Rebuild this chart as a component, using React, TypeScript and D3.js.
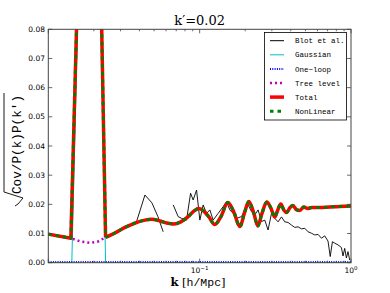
import React from "react";
import * as d3 from "d3";

// model curves (all share the same k grid)
const modelK = [0.01, 0.0141, 0.0165, 0.019, 0.0212, 0.0239, 0.0276, 0.0321, 0.0374, 0.0435, 0.0484, 0.0546, 0.0607, 0.0676, 0.0751, 0.0836, 0.0916, 0.0988, 0.1066, 0.115, 0.126, 0.138, 0.1535, 0.1681, 0.1842, 0.1987, 0.2112, 0.2279, 0.2422, 0.2574, 0.2777, 0.2951, 0.3136, 0.3283, 0.3436, 0.3597, 0.3764, 0.394, 0.4124, 0.4381, 0.4587, 0.4872, 0.5177, 0.5503, 0.6215, 0.7235, 0.8423, 1.0];
const totalV = [0.0098, 0.0084, 0.14, 0.29, 0.154, 0.0087, 0.0102, 0.0121, 0.0136, 0.0146, 0.0149, 0.0143, 0.0136, 0.0133, 0.014, 0.0157, 0.0177, 0.0186, 0.0177, 0.0157, 0.0131, 0.0157, 0.0206, 0.0174, 0.0124, 0.0174, 0.021, 0.017, 0.0126, 0.0167, 0.0208, 0.0188, 0.0157, 0.0181, 0.0201, 0.0181, 0.0172, 0.0188, 0.0196, 0.0181, 0.0179, 0.0191, 0.0186, 0.0189, 0.0189, 0.0191, 0.0193, 0.0194];
const nonLinearV = [0.0098, 0.0084, 0.14, 0.29, 0.154, 0.0087, 0.0102, 0.0121, 0.0136, 0.0146, 0.0149, 0.0143, 0.0136, 0.0133, 0.014, 0.0157, 0.0177, 0.0186, 0.0177, 0.0157, 0.0131, 0.0157, 0.0206, 0.0174, 0.0124, 0.0174, 0.021, 0.017, 0.0126, 0.0167, 0.0208, 0.0188, 0.0157, 0.0181, 0.0201, 0.0181, 0.0172, 0.0188, 0.0196, 0.0181, 0.0179, 0.0191, 0.0186, 0.0189, 0.0189, 0.0191, 0.0193, 0.0194];
const treeV = [0.0098, 0.0084, 0.0072, 0.0068, 0.0072, 0.0087, 0.0102, 0.0121, 0.0136, 0.0146, 0.0149, 0.0143, 0.0136, 0.0133, 0.014, 0.0157, 0.0177, 0.0186, 0.0177, 0.0157, 0.0131, 0.0157, 0.0206, 0.0174, 0.0124, 0.0174, 0.021, 0.017, 0.0126, 0.0167, 0.0208, 0.0188, 0.0157, 0.0181, 0.0201, 0.0181, 0.0172, 0.0188, 0.0196, 0.0181, 0.0179, 0.0191, 0.0186, 0.0189, 0.0189, 0.0191, 0.0193, 0.0194];
const spikeEnd = 5; // straight segments up to here, smooth after

const gaussK = [0.01, 0.0143, 0.0165, 0.019, 0.0212, 0.0239, 1.0];
const gaussV = [0, 0, 0.133, 0.283, 0.147, 0, 0];

const oneLoopK = [0.01, 0.03, 0.1, 0.3, 1.0];
const oneLoopV = [0.0002, 0.0002, 0.0002, 0.0002, 0.0002];

// simulation measurement (NaN = gap)
const blotK = [0.0383, 0.0435, 0.0484, 0.053, 0.0574, 0.0625, 0.0669, 0.0721, 0.076, 0.0819, 0.0871, 0.0906, 0.0954, 0.1003, 0.1055, 0.111, 0.1168, 0.1228, 0.1325, 0.1429, 0.1505, 0.1582, 0.1664, 0.1752, 0.1891, 0.1987, 0.209, 0.2201, 0.2314, 0.2433, 0.2562, 0.2694, 0.2832, 0.2983, 0.3136, 0.3297, 0.3473, 0.3651, 0.3839, 0.4042, 0.425, 0.447, 0.4706, 0.4948, 0.5202, 0.5478, 0.576, 0.6056, 0.6378, 0.6705, 0.705, 0.729, 0.7537, 0.7806, 0.8207, 0.8641, 0.8855, 0.9087, 0.9324, 0.9555, 0.9804];
const blotV = [0.0141, 0.0232, 0.0205, 0.0158, 0.0106, NaN, 0.0198, 0.0158, 0.0152, 0.0146, 0.0238, 0.0215, 0.0249, 0.0146, 0.0198, 0.0169, 0.0181, 0.0146, 0.0169, 0.0192, 0.0209, 0.0181, 0.0169, 0.0152, 0.0158, 0.0181, 0.0198, 0.0175, 0.0164, 0.0181, 0.0141, 0.0146, 0.0112, 0.0169, 0.0152, 0.014, 0.0157, 0.014, 0.0138, 0.0129, 0.0121, 0.0123, 0.0116, 0.0118, 0.0106, 0.0101, 0.0095, 0.0097, 0.0084, 0.0092, 0.0074, 0.0021, 0.0072, 0.0067, 0.0061, 0.0052, 0.0023, 0.0049, 0.0016, 0.0038, 0.0009];

const yTicks = [0, 0.01, 0.02, 0.03, 0.04, 0.05, 0.06, 0.07, 0.08];
const xTickLabels = [
  { k: 0.1, exp: "\u22121" },
  { k: 1, exp: "0" },
];
const legendItems = ["Blot et al.", "Gaussian", "One\u2212loop", "Tree level", "Total", "NonLinear"];

const W = 390;
const H = 293;
const left = 48.3, right = 351, top = 29.3, bottom = 262.7;

const App = () => {
  const x = d3.scaleLog().domain([0.01, 1]).range([left, right]);
  const y = d3.scaleLinear().domain([0, 0.08]).range([bottom, top]);

  const pts = (ks: number[], vs: number[]) => ks.map((k, i) => [k, vs[i]] as [number, number]);
  const lin = d3.line<[number, number]>().x((d) => x(d[0])).y((d) => y(d[1]));
  const smooth = d3
    .line<[number, number]>()
    .x((d) => x(d[0]))
    .y((d) => y(d[1]))
    .curve(d3.curveMonotoneX);
  const model = (vs: number[]) => {
    const p = pts(modelK, vs);
    return (lin(p.slice(0, spikeEnd + 1)) || "") + (smooth(p.slice(spikeEnd)) || "");
  };
  const blotLine = d3
    .line<[number, number]>()
    .defined((d) => !isNaN(d[1]))
    .x((d) => x(d[0]))
    .y((d) => y(d[1]));

  const xMinor = x.ticks();
  const spine = "#444";

  const legX = 264.5, legY = 32.5, legW = 82, legH = 87.5;
  const rowY = (i: number) => 40.7 + i * 14.1;
  const sampleStyles = [
    { stroke: "#000", width: 1, dash: "" },
    { stroke: "#00bfbf", width: 1, dash: "" },
    { stroke: "#0000ff", width: 2, dash: "1,1.3" },
    { stroke: "#bf00bf", width: 2.5, dash: "2,3" },
    { stroke: "#ff0000", width: 3.5, dash: "" },
    { stroke: "#008000", width: 3, dash: "3.5,4" },
  ];

  return (
    <svg width={W} height={H} style={{ position: "absolute", left: 0, top: 0, background: "#fff" }}>
      <defs>
        <clipPath id="plotClip">
          <rect x={left} y={top} width={right - left} height={bottom - top} />
        </clipPath>
      </defs>
      <rect x={0} y={0} width={W} height={H} fill="#fff" />

      <g clipPath="url(#plotClip)" fill="none">
        <path d={blotLine(pts(blotK, blotV)) || ""} stroke="#000" strokeWidth={0.9} />
        <path d={lin(pts(gaussK, gaussV)) || ""} stroke="#00bfbf" strokeWidth={1} />
        <path d={lin(pts(oneLoopK, oneLoopV)) || ""} stroke="#0000ff" strokeWidth={2} strokeDasharray="1,1.3" />
        <path d={model(treeV)} stroke="#bf00bf" strokeWidth={2.5} strokeDasharray="2,3" />
        <path d={model(totalV)} stroke="#ff0000" strokeWidth={3.5} strokeLinejoin="round" />
        <path d={model(nonLinearV)} stroke="#008000" strokeWidth={3} strokeDasharray="3.5,4" strokeLinejoin="round" />
      </g>

      {/* frame */}
      <rect x={left} y={top} width={right - left} height={bottom - top} fill="none" stroke={spine} strokeWidth={1} />

      {/* x ticks */}
      {xMinor.map((k, i) => {
        const major = Math.abs(Math.log10(k) - Math.round(Math.log10(k))) < 1e-6;
        const len = major ? 4 : 2;
        const px = x(k);
        return (
          <g key={"xt" + i} stroke={spine} strokeWidth={0.8}>
            <line x1={px} x2={px} y1={bottom} y2={bottom - len} />
            <line x1={px} x2={px} y1={top} y2={top + len} />
          </g>
        );
      })}
      {xTickLabels.map((t) => (
        <text key={t.exp} x={x(t.k)} y={272.5} fontFamily="DejaVu Sans" fontSize={7.5} fill="#000" textAnchor="middle">
          10<tspan fontSize={5.5} dy={-3}>{t.exp}</tspan>
        </text>
      ))}

      {/* y ticks */}
      {yTicks.map((v) => (
        <g key={"yt" + v}>
          <line x1={left} x2={left + 4} y1={y(v)} y2={y(v)} stroke={spine} strokeWidth={0.8} />
          <line x1={right} x2={right - 4} y1={y(v)} y2={y(v)} stroke={spine} strokeWidth={0.8} />
          <text x={45} y={y(v)} dy="0.35em" fontFamily="DejaVu Sans" fontSize={7.5} textAnchor="end" fill="#000">
            {v.toFixed(2)}
          </text>
        </g>
      ))}

      {/* title */}
      <text x={(left + right) / 2} y={25} textAnchor="middle" fontFamily="DejaVu Serif" fontSize={13} fill="#000">
        k{"\u2032"}=0.02
      </text>

      {/* x label */}
      <text x={198} y={286} textAnchor="middle" fontSize={11.5} fill="#000">
        <tspan fontFamily="DejaVu Serif" fontWeight="bold">k</tspan>
        <tspan fontFamily="DejaVu Serif"> [</tspan>
        <tspan fontFamily="Liberation Mono">h/Mpc</tspan>
        <tspan fontFamily="DejaVu Serif">]</tspan>
      </text>

      {/* y label */}
      <g transform="translate(20.7,145) rotate(-90)">
        <text x={-49} y={0} fontFamily="Liberation Mono" fontSize={13} textLength={99} lengthAdjust="spacingAndGlyphs" fill="#000">
          Cov/P(k)P(k{"\u2032"})
        </text>
        <path d="M-61,-5.7 L-59,-2.7 L-53,2.3 L-47,-16.7 H52" fill="none" stroke="#000" strokeWidth={0.9} />
      </g>

      {/* legend */}
      <rect x={legX} y={legY} width={legW} height={legH} fill="#fff" stroke="#000" strokeWidth={0.8} />
      {legendItems.map((name, i) => {
        const s = sampleStyles[i];
        return (
          <g key={name}>
            <line x1={270} x2={284} y1={rowY(i)} y2={rowY(i)} stroke={s.stroke} strokeWidth={s.width} strokeDasharray={s.dash || undefined} />
            <text x={295} y={rowY(i)} dy="0.35em" fontFamily="Liberation Mono" fontSize={7.5} fill="#000">
              {name}
            </text>
          </g>
        );
      })}
    </svg>
  );
};

export default App;
